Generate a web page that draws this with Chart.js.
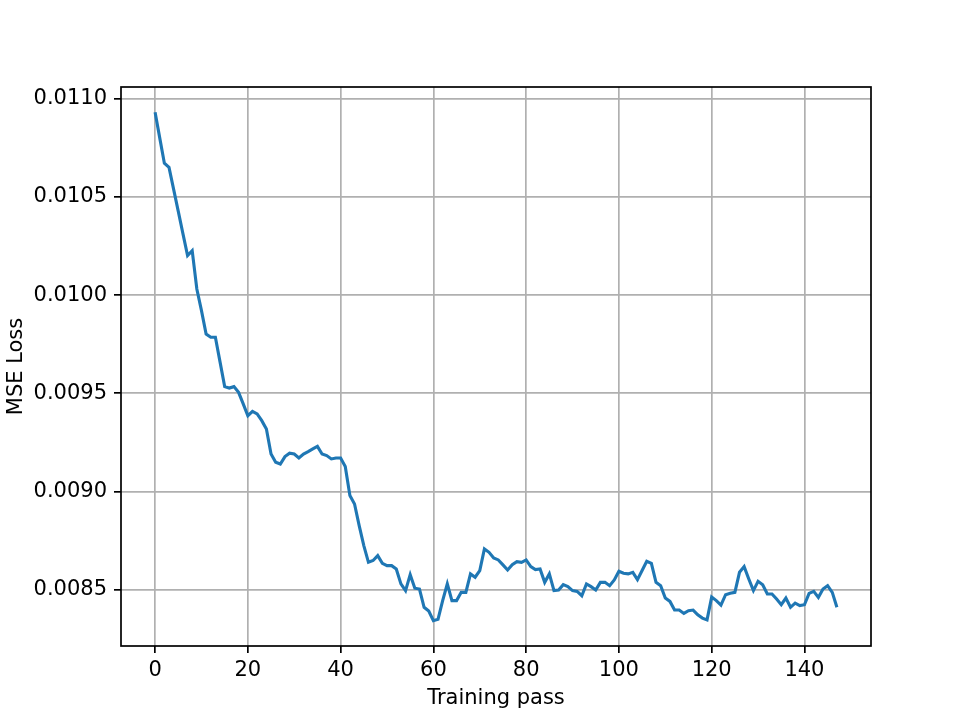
<!DOCTYPE html>
<html>
<head>
<meta charset="utf-8">
<script src="https://cdn.jsdelivr.net/npm/chart.js@4.4.1/dist/chart.umd.min.js"></script>
<style>
  html, body { margin: 0; padding: 0; background: #fff; }
  #wrap { width: 968px; height: 726px; }
</style>
</head>
<body>
<div id="wrap"><canvas id="lossChart" width="968" height="726"></canvas></div>
<script>
// MSE loss per training pass
const lossValues = [
  0.01093, 0.01080, 0.010671, 0.010650, 0.010538, 0.010426, 0.010313, 0.010201, 0.010226, 0.010031,
  0.009921, 0.009802, 0.009785, 0.009785, 0.009660, 0.009534, 0.009527, 0.009534, 0.009505, 0.009446,
  0.009386, 0.009408, 0.009395, 0.009361, 0.009318, 0.009191, 0.009149, 0.009140, 0.009178, 0.009195,
  0.009191, 0.009171, 0.009191, 0.009203, 0.009217, 0.009230, 0.009191, 0.009183, 0.009166, 0.009171,
  0.009171, 0.009128, 0.008980, 0.008937, 0.008827, 0.008725, 0.008640, 0.008649, 0.008674, 0.008635,
  0.008623, 0.008623, 0.008606, 0.008530, 0.008496, 0.008577, 0.008508, 0.008504, 0.008411, 0.008392,
  0.008343, 0.008350, 0.008445, 0.008530, 0.008445, 0.008445, 0.008487, 0.008487, 0.008581, 0.008564,
  0.008598, 0.008708, 0.008691, 0.008662, 0.008652, 0.008627, 0.008601, 0.008628, 0.008643, 0.008640,
  0.008652, 0.008618, 0.008603, 0.008606, 0.008538, 0.008581, 0.008496, 0.008499, 0.008526, 0.008516,
  0.008496, 0.008492, 0.008470, 0.008530, 0.008516, 0.008499, 0.008538, 0.008538, 0.008521, 0.008550,
  0.008594, 0.008584, 0.008581, 0.008589, 0.008552, 0.008598, 0.008645, 0.008635, 0.008538, 0.008521,
  0.008458, 0.008441, 0.008397, 0.008397, 0.008380, 0.008394, 0.008397, 0.008373, 0.008356, 0.008347,
  0.008463, 0.008445, 0.008422, 0.008475, 0.008482, 0.008487, 0.008589, 0.008618, 0.008555, 0.008496,
  0.008543, 0.008526, 0.008479, 0.008479, 0.008453, 0.008424, 0.008458, 0.008411, 0.008432, 0.008420,
  0.008424, 0.008482, 0.008492, 0.008461, 0.008504, 0.008521, 0.008487, 0.008411
];
const passes = lossValues.map((v, i) => i);

const xTicks = [0, 20, 40, 60, 80, 100, 120, 140];
const yTicks = [0.0085, 0.0090, 0.0095, 0.0100, 0.0105, 0.0110];

const FONT = { family: "'DejaVu Sans', sans-serif", size: 21 };

// matplotlib style frame: all four spines drawn on top
const frame = {
  id: 'frame',
  afterDatasetsDraw(chart) {
    const { ctx, chartArea: a } = chart;
    ctx.save();
    ctx.strokeStyle = '#000';
    ctx.lineWidth = 1.7;
    ctx.strokeRect(a.left, a.top, a.right - a.left, a.bottom - a.top);
    ctx.restore();
  }
};

new Chart(document.getElementById('lossChart').getContext('2d'), {
  type: 'line',
  data: {
    datasets: [{
      data: passes.map((x, i) => ({ x: x, y: lossValues[i] })),
      borderColor: '#1f77b4',
      borderWidth: 3.1,
      pointRadius: 0,
      fill: false,
      tension: 0
    }]
  },
  options: {
    responsive: false,
    animation: false,
    layout: { padding: { left: 0, top: 87, right: 97, bottom: 0 } },
    plugins: { legend: { display: false }, tooltip: { enabled: false } },
    scales: {
      x: {
        type: 'linear',
        min: -7.35,
        max: 154.35,
        afterBuildTicks: (s) => { s.ticks = xTicks.map(v => ({ value: v })); },
        afterFit: (s) => { s.height = 80; },
        grid: { color: '#b0b0b0', lineWidth: 1.7, tickColor: '#000', tickWidth: 1.7, tickLength: 7 },
        border: { display: false },
        ticks: { color: '#000', font: FONT, padding: 5, maxRotation: 0 },
        title: { display: true, text: 'Training pass', color: '#000', font: FONT, padding: { top: 0, bottom: 15 } }
      },
      y: {
        type: 'linear',
        min: 0.008214,
        max: 0.011059,
        afterBuildTicks: (s) => { s.ticks = yTicks.map(v => ({ value: v })); },
        afterFit: (s) => { s.width = 121; },
        grid: { color: '#b0b0b0', lineWidth: 1.7, tickColor: '#000', tickWidth: 1.7, tickLength: 7 },
        border: { display: false },
        ticks: { color: '#000', font: FONT, padding: 7, callback: (v) => Number(v).toFixed(4) },
        title: { display: true, text: 'MSE Loss', color: '#000', font: FONT, padding: { top: 4, bottom: 0 } }
      }
    }
  },
  plugins: [frame]
});
</script>
</body>
</html>
